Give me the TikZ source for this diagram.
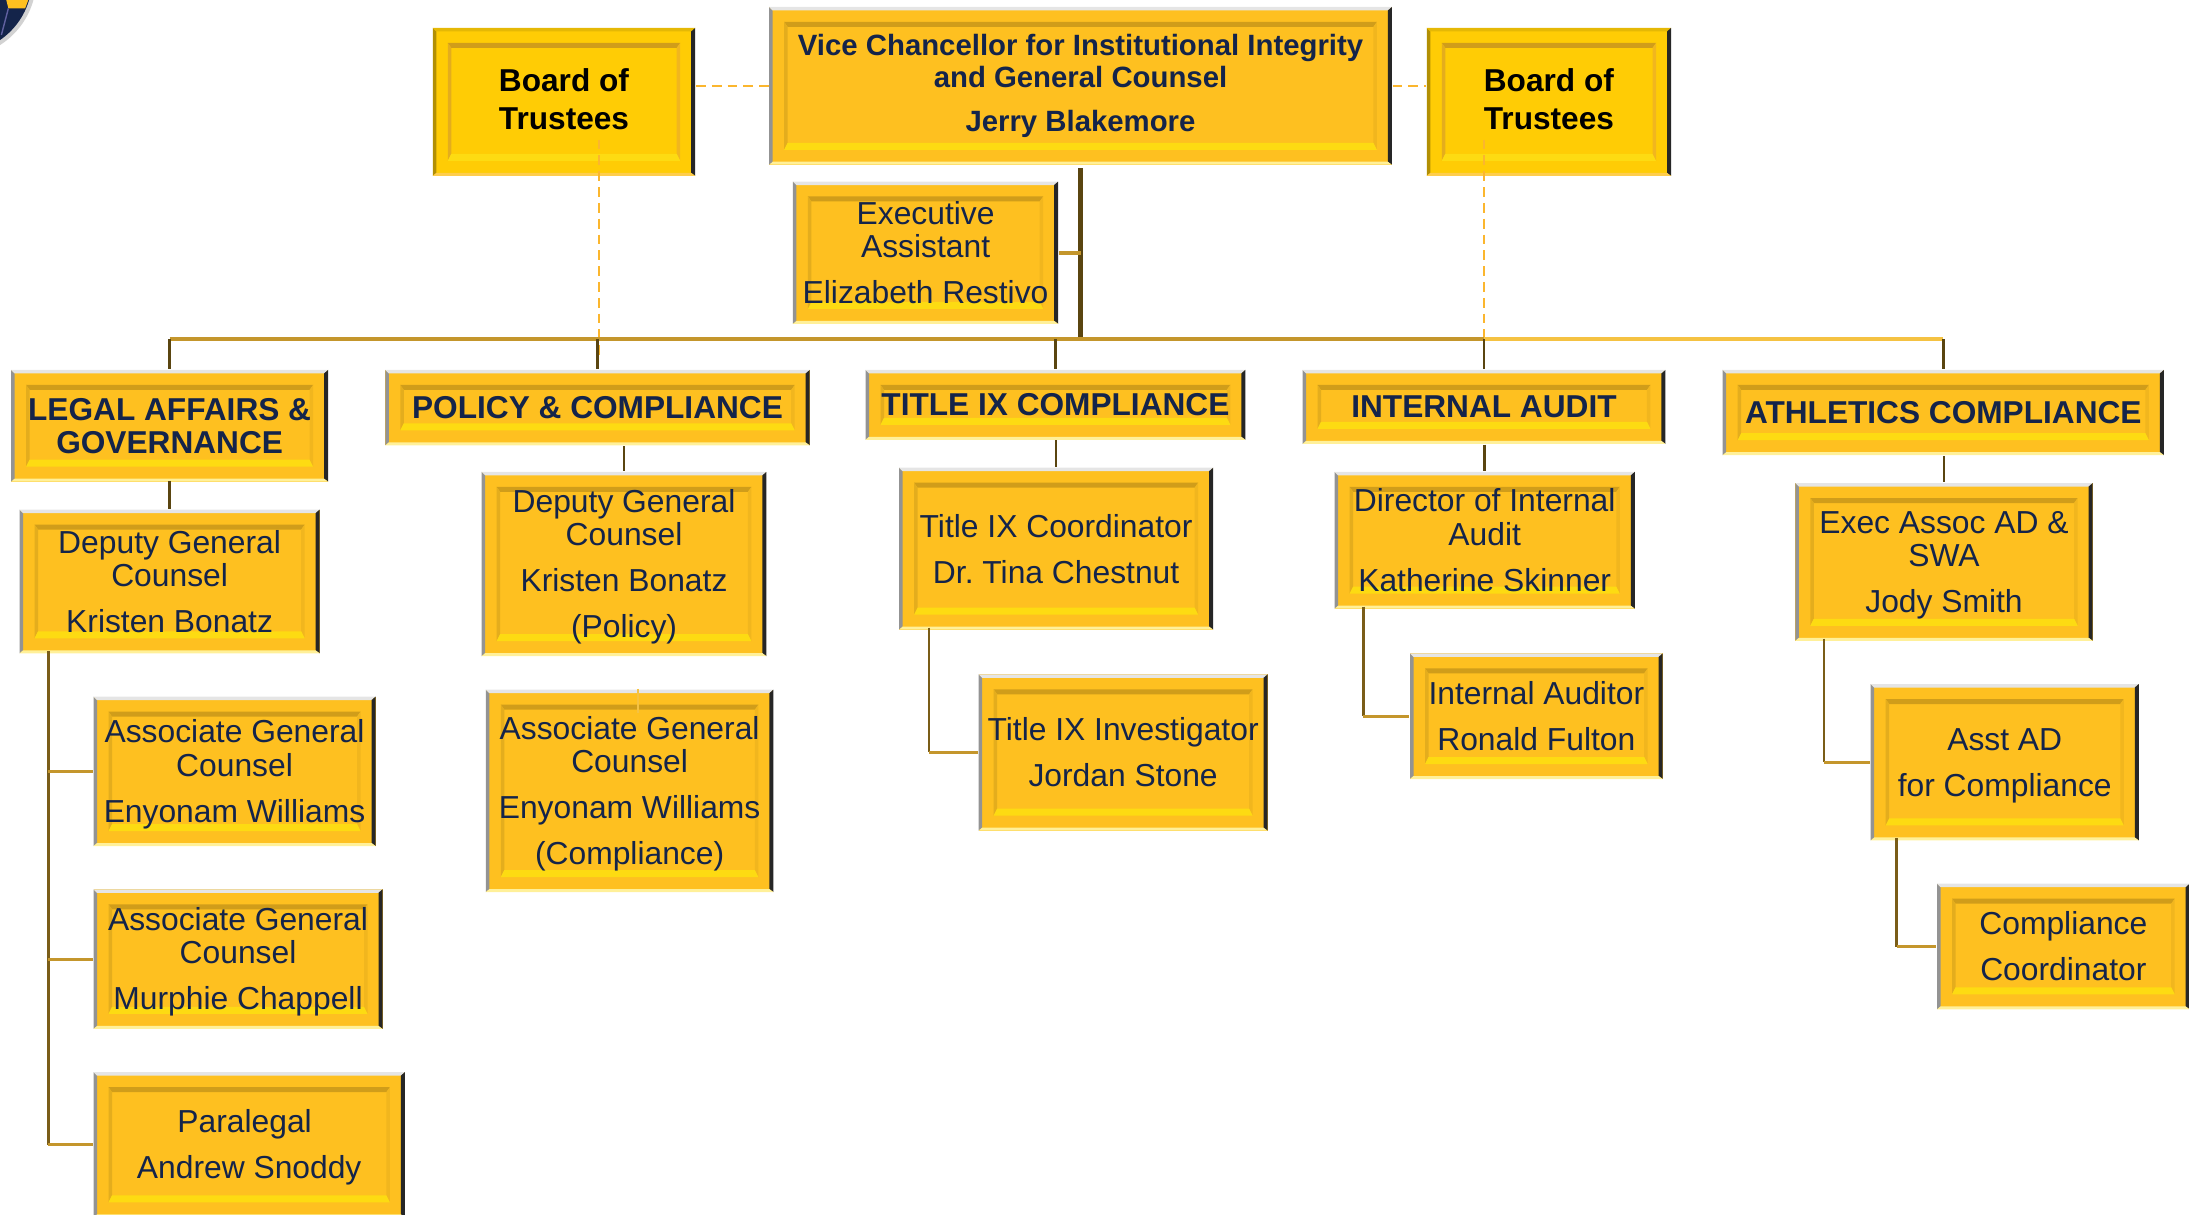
\documentclass[tikz,border=0pt]{standalone}
\usepackage{fontspec}
\setmainfont{Liberation Sans}
\definecolor{navytext}{HTML}{14244A}
\definecolor{boxgold}{HTML}{FEC020}
\definecolor{boardgold}{HTML}{FFCC05}
\definecolor{buslink}{HTML}{C4962C}
\definecolor{droplink}{HTML}{5A4510}
\definecolor{brightlink}{HTML}{F5C242}
\definecolor{dashlink}{HTML}{FBB62E}
\def\u{0.01396cm}
\def\pgap{\\[3.6pt]}
\def\tdn{\rule{0pt}{8.2pt}}
\def\tup{\rule[-1.6pt]{0pt}{0pt}}
\newcommand{\bevelfaces}[4]{%
\coordinate (nw) at (path picture bounding box.north west);
\coordinate (ne) at (path picture bounding box.north east);
\coordinate (se) at (path picture bounding box.south east);
\coordinate (sw) at (path picture bounding box.south west);
\coordinate (inw) at ([shift={(0.15cm,-0.15cm)}]nw);
\coordinate (ine) at ([shift={(-0.15cm,-0.15cm)}]ne);
\coordinate (ise) at ([shift={(-0.15cm,0.15cm)}]se);
\coordinate (isw) at ([shift={(0.15cm,0.15cm)}]sw);
% outer rim
\fill[#1] (nw) -- ([shift={(0.035cm,-0.035cm)}]nw) -- ([shift={(0.035cm,0.03cm)}]sw) -- (sw) -- cycle;
\fill[#2] (nw) -- ([shift={(0.035cm,-0.035cm)}]nw) -- ([shift={(-0.04cm,-0.035cm)}]ne) -- (ne) -- cycle;
\fill[#3] (ne) -- ([shift={(-0.04cm,-0.035cm)}]ne) -- ([shift={(-0.04cm,0.03cm)}]se) -- (se) -- cycle;
\fill[#4] (sw) -- ([shift={(0.035cm,0.03cm)}]sw) -- ([shift={(-0.04cm,0.03cm)}]se) -- (se) -- cycle;
% inner lip
\fill[black!18!boxgold] (inw) -- ([shift={(0.035cm,-0.05cm)}]inw) -- ([shift={(-0.035cm,-0.05cm)}]ine) -- (ine) -- cycle;
\fill[black!10!boxgold] (inw) -- ([shift={(0.035cm,-0.05cm)}]inw) -- ([shift={(0.035cm,0.07cm)}]isw) -- (isw) -- cycle;
\fill[black!5!boxgold] (ine) -- ([shift={(-0.035cm,-0.05cm)}]ine) -- ([shift={(-0.035cm,0.07cm)}]ise) -- (ise) -- cycle;
\fill[yellow!55!boxgold] (isw) -- ([shift={(0.035cm,0.07cm)}]isw) -- ([shift={(-0.035cm,0.07cm)}]ise) -- (ise) -- cycle;
}
\tikzset{
  bevelbox/.style={rectangle,inner sep=0pt,fill=boxgold,text=navytext,align=center,
    font=\fontsize{9.05}{9.5}\selectfont,
    path picture={\bevelfaces{gray!85}{gray!20}{black!85}{orange!30!yellow!40}}},
  headbox/.style={bevelbox,font=\fontsize{9}{9.5}\selectfont\bfseries},
  chiefbox/.style={bevelbox,font=\fontsize{8.35}{9.1}\selectfont\bfseries},
  boardbox/.style={rectangle,inner sep=0pt,fill=boardgold,text=black,align=center,
    font=\fontsize{9}{10.7}\selectfont\bfseries,
    path picture={\bevelfaces{boardgold!70!black}{boardgold!90!black}{black!85}{boxgold!80!white}}},
  bus/.style={buslink,line width=1.1pt},
  brightbus/.style={brightlink,line width=1.1pt},
  drop/.style={droplink,line width=0.7pt},
  elbowv/.style={droplink!70!buslink,line width=0.8pt},
  elbowh/.style={buslink,line width=0.8pt},
  dashlk/.style={dashlink,line width=0.55pt,dash pattern=on 2.8pt off 1.7pt}
}
\begin{document}
\frenchspacing
\begin{tikzpicture}[x=\u,y=-\u]
\clip (0,0) rectangle (1568,869.6);
\fill[gray!35] (-30,-15) circle [radius=56];
\fill[navytext] (-30,-15) circle [radius=53];
\fill[boxgold] (4,-2) -- (21,-2) -- (18,6) -- (6,6) -- cycle;
\draw[blue!25!gray,line width=0.4pt] (6,6) -- (1,25);

% top row
\node[boardbox,minimum width=188*\u,minimum height=106*\u] (boardl) at (404,73) {Board of\\Trustees\tup};
\node[chiefbox,minimum width=446*\u,minimum height=113*\u] (vc) at (774,61.5) {Vice Chancellor for Institutional Integrity\\and General Counsel\pgap Jerry Blakemore};
\node[boardbox,minimum width=175*\u,minimum height=106*\u] (boardr) at (1109.5,73) {Board of\\Trustees\tup};
\node[bevelbox,minimum width=190*\u,minimum height=102*\u] (exec) at (663,181) {Executive\\Assistant\pgap Elizabeth Restivo};

% departments
\node[headbox,minimum width=227*\u,minimum height=80*\u] (legal) at (121.5,305) {LEGAL AFFAIRS \&\\GOVERNANCE};
\node[headbox,minimum width=304*\u,minimum height=54*\u] (policy) at (428,292) {POLICY \& COMPLIANCE};
\node[headbox,minimum width=272*\u,minimum height=50*\u] (title) at (756,290) {TITLE IX COMPLIANCE};
\node[headbox,minimum width=260*\u,minimum height=53*\u] (audit) at (1063,291.5) {INTERNAL AUDIT};
\node[headbox,minimum width=316*\u,minimum height=61*\u] (athl) at (1392,295.5) {ATHLETICS COMPLIANCE};

% legal column
\node[bevelbox,minimum width=215*\u,minimum height=103*\u] (deputyl) at (121.5,416.5) {Deputy General\\Counsel\pgap Kristen Bonatz};
\node[bevelbox,minimum width=202*\u,minimum height=107*\u] (agca) at (168,552.5) {\tdn Associate General\\Counsel\pgap Enyonam Williams};
\node[bevelbox,minimum width=207*\u,minimum height=100*\u] (agcb) at (170.5,687) {\tdn Associate General\\Counsel\pgap Murphie Chappell};
\node[bevelbox,minimum width=223*\u,minimum height=104*\u] (para) at (178.5,820) {\tdn Paralegal\hspace*{2.6pt}\pgap Andrew Snoddy};

% policy column
\node[bevelbox,minimum width=204*\u,minimum height=132*\u] (deputyp) at (447,404) {\tdn Deputy General\\Counsel\pgap Kristen Bonatz\pgap (Policy)};
\node[bevelbox,minimum width=206*\u,minimum height=145*\u] (agcp) at (451,566.5) {\tdn Associate General\\Counsel\pgap Enyonam Williams\pgap (Compliance)};

% title ix column
\node[bevelbox,minimum width=225*\u,minimum height=116*\u] (coord) at (756.5,393) {Title IX Coordinator\pgap Dr. Tina Chestnut};
\node[bevelbox,minimum width=207*\u,minimum height=112*\u] (invest) at (804.5,539) {Title IX Investigator\pgap Jordan Stone};

% audit column
\node[bevelbox,minimum width=215*\u,minimum height=98*\u] (director) at (1063.5,387) {Director of Internal\\Audit\pgap Katherine Skinner};
\node[bevelbox,minimum width=181*\u,minimum height=90*\u] (auditor) at (1100.5,513) {Internal Auditor\pgap Ronald Fulton};

% athletics column
\node[bevelbox,minimum width=213*\u,minimum height=113*\u] (swa) at (1392.5,402.5) {\tdn Exec Assoc AD \&\\SWA\pgap Jody Smith};
\node[bevelbox,minimum width=192*\u,minimum height=112*\u] (asst) at (1436,546) {\tdn Asst AD\pgap for Compliance};
\node[bevelbox,minimum width=181*\u,minimum height=90*\u] (compl) at (1478,678) {Compliance\pgap Coordinator};

% dotted reporting lines
\coordinate (buspt) at (774,243);
\draw[dashlk] (boardl.east |- vc.west) -- (vc.west);
\draw[dashlk] (vc.east) -- (boardr.west |- vc.east);
\draw[dashlk] (429,100) -- (429,256);
\draw[dashlk] (1063,100) -- (1063,243);

% main lines
\draw[droplink,line width=1.4pt] ([yshift=-2*\u]vc.south) -- (buspt);
\draw[bus] (exec.east) -- (vc.south |- exec.east);
\draw[bus] (legal.north |- buspt) -- (audit.north |- buspt);
\draw[brightbus] (audit.north |- buspt) -- (athl.north |- buspt);
\foreach \dept in {legal,policy,title,audit,athl}
  \draw[drop] (\dept.north |- buspt) -- (\dept.north);

% department to first post
\draw[drop] ([yshift=1*\u]legal.south) -- (deputyl.north);
\draw[drop] (deputyp.north |- policy.south) -- (deputyp.north);
\draw[drop] (coord.north |- title.south) -- (coord.north);
\draw[drop] (director.north |- audit.south) -- (director.north);
\draw[drop] (swa.north |- athl.south) -- (swa.north);
\draw[brightlink,line width=0.6pt] ([xshift=6*\u]agcp.north) -- ([xshift=6*\u,yshift=-17*\u]agcp.north);

% side branches
\coordinate (legaltrunk) at ([xshift=21*\u,yshift=2*\u]deputyl.south west);
\draw[elbowv] (legaltrunk) -- (legaltrunk |- para.west);
\foreach \post in {agca,agcb,para}
  \draw[elbowh] (legaltrunk |- \post.west) -- (\post.west);
\foreach \upper/\lower/\off in {coord/invest/22,director/auditor/21,swa/asst/21,asst/compl/19}{
  \draw[elbowv] ([xshift=\off*\u,yshift=2*\u]\upper.south west) -- ([xshift=\off*\u]\upper.south west |- \lower.west);
  \draw[elbowh] ([xshift=\off*\u]\upper.south west |- \lower.west) -- (\lower.west);
}
\end{tikzpicture}
\end{document}
